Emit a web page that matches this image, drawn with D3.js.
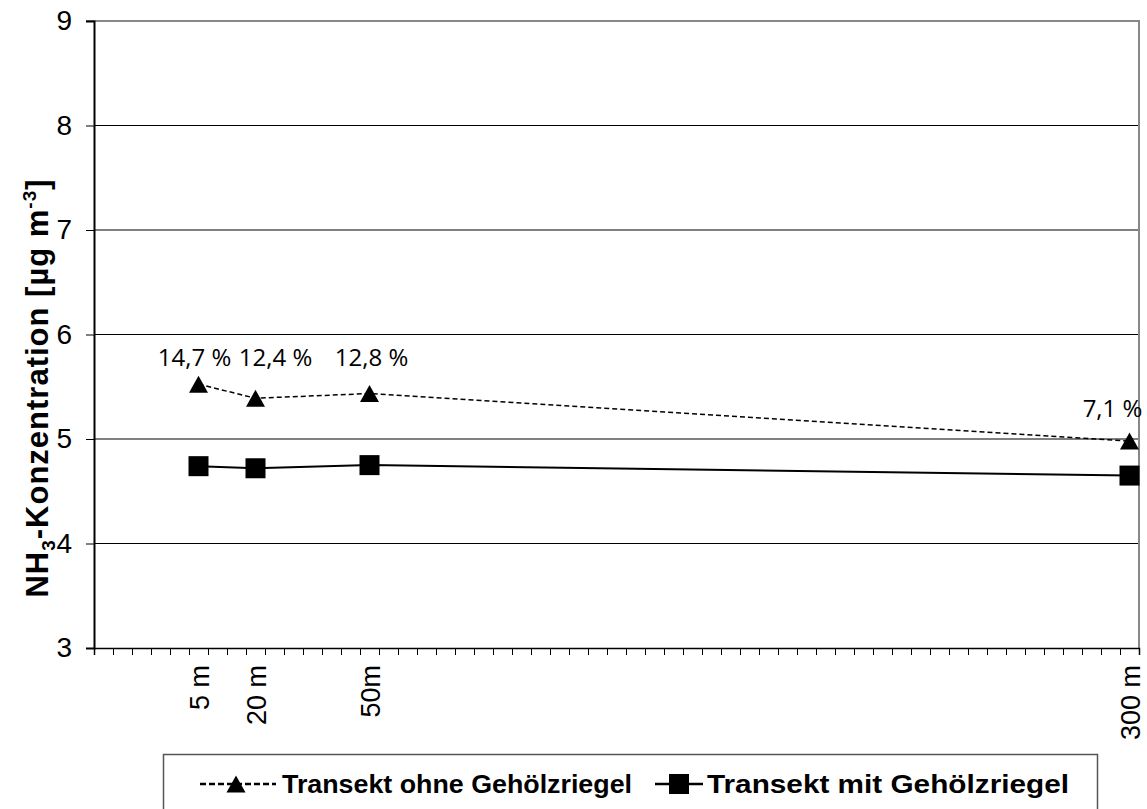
<!DOCTYPE html>
<html><head><meta charset="utf-8">
<script src="https://cdn.jsdelivr.net/npm/d3@7"></script>
<style>body{margin:0;background:#fff}svg{display:block}</style>
</head><body>
<script>
// ---- data ----
const categories = ["5 m", "20 m", "50m", "300 m"];
const catSlots = [5, 8, 14, 54];          // slot index on the 55-slot category axis
const slotCount = 55;
const ohne = [5.525, 5.39, 5.435, 4.98];  // Transekt ohne Gehölzriegel
const mit  = [4.74, 4.72, 4.75, 4.65];    // Transekt mit Gehölzriegel
const pctLabels = ["14,7 %", "12,4 %", "12,8 %", "7,1 %"];
const yTicks = [3, 4, 5, 6, 7, 8, 9];
const seriesNames = ["Transekt ohne Gehölzriegel", "Transekt mit Gehölzriegel"];

// ---- layout ----
const W = 1147, H = 809;
const m = {left: 94, right: 1139, top: 21, bottom: 648};
const labelOffset = [[-4, -10], [20, -24], [2, -19], [-17, -16]]; // manual label placement (dx, dy from marker)
const SANS = "Liberation Sans, Arial, sans-serif";

const svg = d3.select("body").append("svg").attr("width", W).attr("height", H);

const x = d3.scaleLinear().domain([0, slotCount]).range([m.left, m.right]);
const y = d3.scaleLinear().domain([3, 9]).range([m.bottom, m.top]);
const xc = i => x(catSlots[i] + 0.5);

// gridlines
svg.append("g").selectAll("line").data(yTicks.filter(d => d > 3 && d < 9)).join("line")
  .attr("x1", m.left).attr("x2", m.right).attr("y1", d => y(d)).attr("y2", d => y(d))
  .attr("stroke", "#000").attr("stroke-width", 1);
// plot border top/right
svg.append("line").attr("x1", m.left - 8).attr("x2", m.right + 1).attr("y1", y(9)).attr("y2", y(9))
  .attr("stroke", "#888").attr("stroke-width", 2);
svg.append("line").attr("x1", m.right).attr("x2", m.right).attr("y1", y(9)).attr("y2", m.bottom)
  .attr("stroke", "#888").attr("stroke-width", 2);

// y axis
const yAxis = svg.append("g").attr("transform", `translate(${m.left},0)`)
  .call(d3.axisLeft(y).tickValues(yTicks).tickSize(8).tickPadding(14).tickFormat(d3.format("d")));
yAxis.select(".domain").attr("stroke", "#000").attr("stroke-width", 2);
yAxis.selectAll(".tick line").attr("stroke", "#000");
yAxis.selectAll("text").attr("font-family", SANS).attr("font-size", 28).attr("fill", "#000");

// x axis
const xAxis = svg.append("g").attr("transform", `translate(0,${m.bottom})`)
  .call(d3.axisBottom(x).tickValues(d3.range(0, slotCount + 1)).tickSize(7).tickFormat(""));
xAxis.select(".domain").attr("stroke", "#000").attr("stroke-width", 1.5);
xAxis.selectAll(".tick line").attr("stroke", "#000");

// x category labels (rotated)
svg.append("g").selectAll("text").data(categories).join("text")
  .attr("transform", (d, i) => `translate(${xc(i) + 10},${m.bottom + 17}) rotate(-90)`)
  .attr("text-anchor", "end")
  .attr("font-family", SANS).attr("font-size", 27).attr("fill", "#000")
  .text(d => d);

// y axis title
const yt = svg.append("text")
  .attr("transform", `translate(48,388) rotate(-90)`)
  .attr("text-anchor", "middle").attr("letter-spacing", 1)
  .attr("font-family", SANS).attr("font-size", 31).attr("font-weight", "bold").attr("fill", "#000");
yt.append("tspan").text("NH");
yt.append("tspan").attr("font-size", 19).attr("dy", 7).text("3");
yt.append("tspan").attr("dy", -7).text("-Konzentration [µg m");
yt.append("tspan").attr("font-size", 19).attr("dy", -12).text("-3");
yt.append("tspan").attr("dy", 12).text("]");

// marker shapes
const triW = 19, triH = 17;
const triPath = `M0,${-triH / 2}L${triW / 2},${triH / 2}L${-triW / 2},${triH / 2}Z`;
const sq = 20;

// lines
const line = d3.line().x((d, i) => xc(i)).y(d => y(d));
svg.append("path").datum(ohne).attr("d", line).attr("fill", "none")
  .attr("stroke", "#000").attr("stroke-width", 1.5).attr("stroke-dasharray", "5,3");
svg.append("path").datum(mit).attr("d", line).attr("fill", "none")
  .attr("stroke", "#000").attr("stroke-width", 2);

svg.append("g").selectAll("path").data(ohne).join("path")
  .attr("transform", (d, i) => `translate(${xc(i)},${y(d)})`).attr("d", triPath).attr("fill", "#000");
svg.append("g").selectAll("rect").data(mit).join("rect")
  .attr("x", (d, i) => xc(i) - sq / 2).attr("y", d => y(d) - sq / 2).attr("width", sq).attr("height", sq)
  .attr("fill", "#000");

// percentage labels
svg.append("g").selectAll("text").data(pctLabels).join("text")
  .attr("x", (d, i) => xc(i) + labelOffset[i][0]).attr("y", (d, i) => y(ohne[i]) + labelOffset[i][1] - triH / 2)
  .attr("text-anchor", "middle")
  .attr("font-family", "Open Sans, Lato, sans-serif").attr("font-size", 24).attr("fill", "#000")
  .text(d => d);

// legend
const lg = svg.append("g");
lg.append("rect").attr("x", 163.5).attr("y", 754.5).attr("width", 934).attr("height", 70)
  .attr("fill", "#fff").attr("stroke", "#555").attr("stroke-width", 1.5);
const ly = 784;
lg.append("line").attr("x1", 200).attr("x2", 276).attr("y1", ly).attr("y2", ly)
  .attr("stroke", "#000").attr("stroke-width", 2.5).attr("stroke-dasharray", "6,3");
lg.append("path").attr("transform", `translate(236,${ly})`).attr("d", triPath).attr("fill", "#000");
lg.append("line").attr("x1", 655).attr("x2", 703).attr("y1", ly).attr("y2", ly)
  .attr("stroke", "#000").attr("stroke-width", 2.5);
lg.append("rect").attr("x", 679 - sq / 2).attr("y", ly - sq / 2).attr("width", sq).attr("height", sq).attr("fill", "#000");
const legX = [[282, 350], [707, 362]];
lg.selectAll("text.l").data(seriesNames).join("text").attr("class", "l")
  .attr("x", (d, i) => legX[i][0]).attr("y", ly + 9)
  .attr("textLength", (d, i) => legX[i][1]).attr("lengthAdjust", "spacingAndGlyphs")
  .attr("font-family", SANS).attr("font-size", 26).attr("font-weight", "bold").attr("fill", "#000")
  .text(d => d);
</script>
</body></html>
